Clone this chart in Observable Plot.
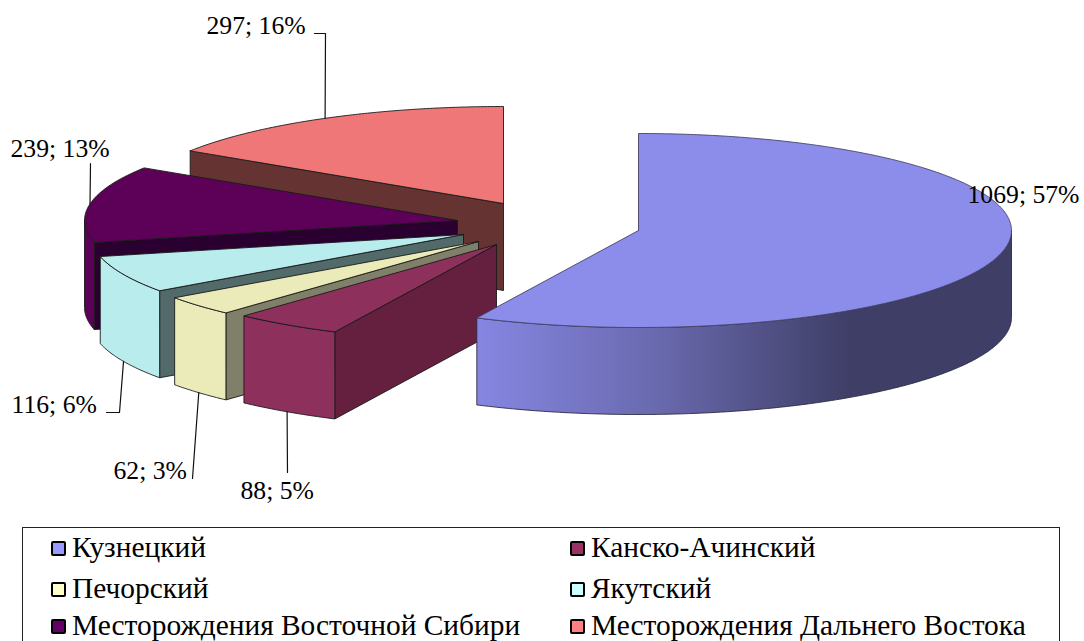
<!DOCTYPE html>
<html><head><meta charset="utf-8">
<script src="https://cdn.jsdelivr.net/npm/d3@7"></script>
<script src="https://cdn.jsdelivr.net/npm/@observablehq/plot@0.6"></script>
<style>
html,body{margin:0;padding:0;background:#fff;overflow:hidden;width:1084px;height:641px}
#chart svg{display:block}
#legend{position:absolute;left:22px;top:527px;width:1036px;height:130px;border:1px solid #222;box-sizing:content-box;font-family:"Liberation Serif",serif;font-size:29.4px;color:#000;line-height:1}
#legend div{position:absolute;white-space:nowrap;display:flex;align-items:center}
#legend i{display:inline-block;width:11px;height:11px;border:2px solid #000;border-radius:2px;margin-right:6px;position:relative;top:1px}
</style></head><body>
<div id="chart"></div>
<div id="legend"></div>
<script>
const categories = ["Кузнецкий","Канско-Ачинский","Печорский","Якутский","Месторождения Восточной Сибири","Месторождения Дальнего Востока"];
const values = [1069,88,62,116,239,297];
const topColors = ["#8c8cea","#8e305c","#ebebb9","#b9ecec","#5c0058","#ef7777"];
const cutColors = ["#46467a","#652040","#80806a","#526a6a","#2a0030","#663333"];
const legendColors = ["#9999ff","#993366","#ffffcc","#ccffff","#660066","#ff8080"];

// layout of the exploded 3-D pie
const centerX = [638,496,478,463,457,503];
const centerY = [230,244,241,234,220,203];
const rx = 373, ry = 97, depth = 87;
const labelX = [967,240,113,11,10,206];
const labelY = [194,490,470,404,148,25];
const leaderElbow = [null,[287,472],[192,478],[119,412],[90,163],[325,33]];
const leaderEnd = [null,null,null,[106,412],null,[314,33]];

const total = d3.sum(values);
const H = 527;
let acc = 0;
const slices = values.map((v,i)=>{
  const a0 = acc/total*360; acc += v; const a1 = acc/total*360;
  return {i,v,a0,a1,cx:centerX[i],cy:centerY[i]};
});
const pt = (s,a,dz=0)=>{const r=a*Math.PI/180;return {x:s.cx+rx*Math.sin(r),y:s.cy-ry*Math.cos(r)+dz};};
const arc = (s,a0,a1,dz=0)=>{const n=Math.max(2,Math.ceil((a1-a0)*2));return d3.range(n+1).map(k=>pt(s,a0+(a1-a0)*k/n,dz));};
const close = p=>[...p,p[0]];
const poly = (pts,fill,stroke="#1a1a1a",sw=0.9)=>Plot.line(close(pts),{x:"x",y:"y",fill,stroke,strokeWidth:sw,curve:"linear",strokeLinejoin:"round"});

const marks = [];
marks.push(()=>{
  const s=d3.create("svg:defs");
  const g=s.append("linearGradient").attr("id","kuz");
  [[0,"#8686e2"],[0.33,"#6a6ab0"],[0.7,"#3e3e66"],[1,"#3e3e66"]].forEach(([o,c])=>g.append("stop").attr("offset",o).attr("stop-color",c));
  return s.node();
});
for (const s of [...slices].reverse()) {
  const c={x:s.cx,y:s.cy};
  const lo=Math.max(s.a0,90), hi=Math.min(s.a1,270);
  if (s.i>0) {
    const o=pt(s,s.a0);
    marks.push(poly([o,c,{x:c.x,y:c.y+depth},{x:o.x,y:o.y+depth}],cutColors[s.i]));
  }
  if (lo<hi) {
    marks.push(poly([...arc(s,lo,hi),...arc(s,lo,hi,depth).reverse()],s.i===0?"url(#kuz)":topColors[s.i],s.i===0?"#2a2a44":"#1a1a1a"));
  }
  marks.push(poly([c,...arc(s,s.a0,s.a1)],topColors[s.i],s.i===0?"#44446a":"#1a1a1a"));
}
slices.forEach(s=>{
  if(!leaderElbow[s.i]) return;
  const mid=(s.a0+s.a1)/2;
  const start=pt(s,mid,(mid>90&&mid<270&&s.i<4)?depth:0);
  const e=leaderElbow[s.i];
  const path=[start,{x:e[0],y:e[1]}];
  if(leaderEnd[s.i]) path.push({x:leaderEnd[s.i][0],y:leaderEnd[s.i][1]});
  marks.push(Plot.line(path,{x:"x",y:"y",stroke:"#111",strokeWidth:1.2,curve:"linear"}));
});
const labels = slices.map(s=>({x:labelX[s.i],y:labelY[s.i],t:`${s.v}; ${Math.round(s.v/total*100)}%`}));
marks.push(Plot.text(labels,{x:"x",y:"y",text:"t",textAnchor:"start",lineAnchor:"middle",fontSize:25.7,fontFamily:"Liberation Serif",fill:"#000"}));

const chart = Plot.plot({
  width:1084,height:H,margin:0,
  x:{domain:[0,1084],range:[0,1084],axis:null},
  y:{domain:[0,H],range:[0,H],axis:null},
  color:{type:"identity"},
  style:{background:"#fff"},
  marks
});
document.getElementById("chart").append(chart);

const lg=document.getElementById("legend");
const colX=[28,547], rowY=[20,61,98];
categories.forEach((c,i)=>{
  const d=document.createElement("div");
  d.style.left=colX[i%2]+"px";
  d.style.top=(rowY[Math.floor(i/2)]-15)+"px";
  const sw=document.createElement("i");sw.style.background=legendColors[i];
  d.append(sw,document.createTextNode(c));
  lg.append(d);
});
</script></body></html>
